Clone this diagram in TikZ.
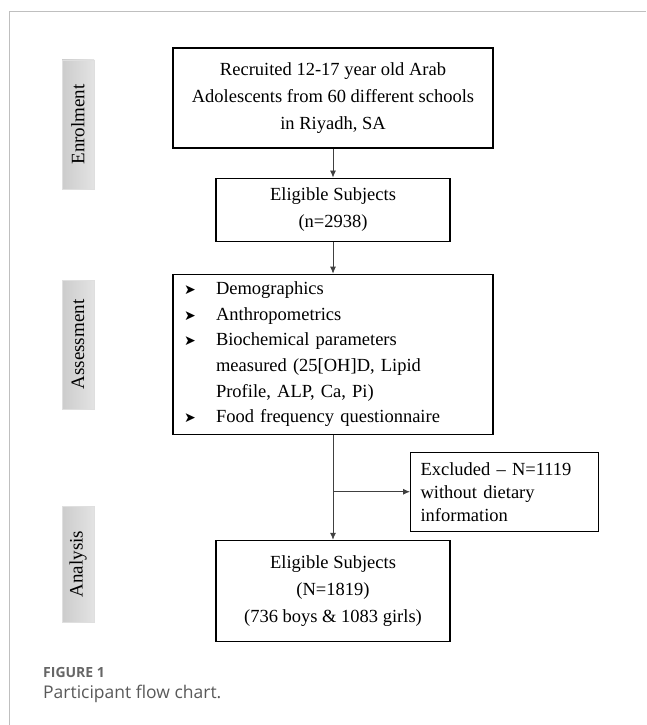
\documentclass[tikz,border=0pt]{standalone}
\usepackage{fontspec}
\setmainfont{Liberation Serif}
\newfontfamily\capfont{Open Sans}
\newfontfamily\symfont{DejaVu Sans}
\usetikzlibrary{positioning,arrows.meta}

\begin{document}
\begin{tikzpicture}[x=1pt,y=-1pt,
box/.style={draw=black, line width=1.1pt, align=center, inner sep=0pt, font=\fontsize{18.5}{27}\selectfont},
stage/.style={rotate=90, left color=gray!40, right color=gray!22, draw=gray!25, minimum height=32pt, inner sep=0pt, font=\fontsize{19}{20}\selectfont},
arr/.style={draw=black!75, line width=0.8pt, -{Latex[length=7pt,width=6pt]}},
]
\useasboundingbox (0,0) rectangle (646,725);

%Frame
\draw[gray!50, line width=1pt] (9,725) -- (9,12) -- (646,12);

%Flow boxes
\node[box, minimum width=320pt, minimum height=100pt] (recruit) at (333,98) {Recruited 12-17 year old Arab\\Adolescents from 60 different schools\\in Riyadh, SA};
\node[box, minimum width=234pt, minimum height=63pt] (elig) [below=29pt of recruit] {Eligible Subjects\\(n=2938)};
\node[box, minimum width=320pt, minimum height=160pt, align=left, text width=298pt, font=\fontsize{18.5}{25.7}\selectfont] (assess) [below=32pt of elig] {%
\makebox[32pt][l]{\symfont\fontsize{14}{14}\selectfont ➤}Demographics\\
\makebox[32pt][l]{\symfont\fontsize{14}{14}\selectfont ➤}Anthropometrics\\
\makebox[32pt][l]{\symfont\fontsize{14}{14}\selectfont ➤}Biochemical parameters\\
\hspace*{32pt}measured (25[OH]D, Lipid\\
\hspace*{32pt}Profile, ALP, Ca, Pi)\\
\makebox[32pt][l]{\symfont\fontsize{14}{14}\selectfont ➤}Food frequency questionnaire};
\node[box, minimum width=234pt, minimum height=101pt] (final) [below=105pt of assess] {Eligible Subjects\\(N=1819)\\(736 boys \& 1083 girls)};
\coordinate[below=57pt of assess.south] (split);
\node[box, minimum width=188pt, minimum height=79pt, align=left, text width=168pt, font=\fontsize{18.5}{23}\selectfont] (excl) [right=77pt of split] {Excluded – N=1119\\without dietary\\information};

%Stage labels
\node[stage, minimum width=129pt] (enrol) at (78,124.5) {Enrolment};
\node[stage, minimum width=129pt] (assesslab) at (78,344.5) {Assessment};
\node[stage, minimum width=116pt] (analysis) at (78,564) {Analysis};

%Arrows
\draw[arr] (recruit) -- (elig);
\draw[arr] (elig) -- (assess);
\draw[arr] (assess) -- (final);
\draw[arr] (split) -- (excl);

%Caption
\node[anchor=west, inner sep=0pt, text=black!60, font=\capfont\bfseries\fontsize{14}{16}\selectfont] (figno) at (43,672) {FIGURE 1};
\node[anchor=west, inner sep=0pt, text=black!65, font=\capfont\fontsize{17.5}{20}\selectfont] (caption) at (43,694) {Participant flow chart.};
\end{tikzpicture}
\end{document}
